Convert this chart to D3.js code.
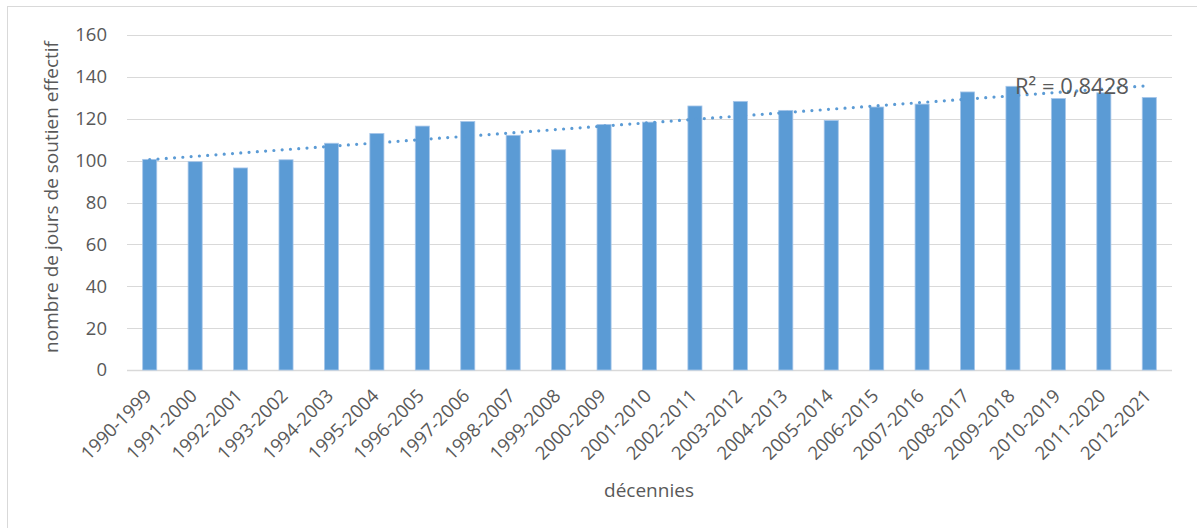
<!DOCTYPE html>
<html>
<head>
<meta charset="utf-8">
<script src="https://cdn.jsdelivr.net/npm/d3@7"></script>
<style>
html,body{margin:0;padding:0;background:#fff;}
svg{display:block;}
text{font-family:"Open Sans","Noto Sans",sans-serif;fill:#595959;}
</style>
</head>
<body>
<svg id="chart" width="1197" height="528"></svg>
<script>
const categories = ["1990-1999","1991-2000","1992-2001","1993-2002","1994-2003","1995-2004","1996-2005","1997-2006","1998-2007","1999-2008","2000-2009","2001-2010","2002-2011","2003-2012","2004-2013","2005-2014","2006-2015","2007-2016","2008-2017","2009-2018","2010-2019","2011-2020","2012-2021"];
const values = [100.6,99.5,96.5,100.4,108.3,113.0,116.5,118.7,112.1,105.2,117.3,118.4,126.1,128.3,124.0,119.2,125.6,127.0,132.8,135.5,129.7,132.4,130.2];
const yTicks = [0,20,40,60,80,100,120,140,160];
const r2Label = "R² = 0,8428";
const yTitle = "nombre de jours de soutien effectif";
const xTitle = "décennies";

const svg = d3.select("#chart");
const m = {left:127, right:1172, top:35, bottom:370};

svg.append("rect").attr("x",7.5).attr("y",6.5).attr("width",1250).attr("height",600)
  .attr("fill","none").attr("stroke","#d9d9d9").attr("stroke-width",1);

const x = d3.scaleBand().domain(categories).range([m.left,m.right]).paddingInner(0.69).paddingOuter(0.345);
const y = d3.scaleLinear().domain([0,160]).range([m.bottom,m.top]);

// gridlines
svg.append("g").selectAll("line").data(yTicks).join("line")
  .attr("x1",m.left).attr("x2",m.right)
  .attr("y1",d=>Math.round(y(d))+0.5).attr("y2",d=>Math.round(y(d))+0.5)
  .attr("stroke","#d9d9d9").attr("stroke-width",d=>d===0?1.5:1);

// y axis labels
const yAxis = d3.axisLeft(y).tickValues(yTicks).tickSize(0).tickPadding(20);
const yg = svg.append("g").attr("transform",`translate(${m.left},0)`).call(yAxis);
yg.select(".domain").remove();
yg.selectAll("text").style("font-size","18.5px").style("fill","#595959").attr("font-family",null);

// bars
svg.append("g").selectAll("rect").data(values).join("rect")
  .attr("x",(d,i)=>x(categories[i]))
  .attr("width",x.bandwidth())
  .attr("y",d=>y(d))
  .attr("height",d=>y(0)-y(d))
  .attr("fill","#5b9bd5")
  .attr("stroke","#a8c7ea").attr("stroke-width",0.8);

// x axis labels
const xAxis = d3.axisBottom(x).tickSize(0).tickPadding(0);
const xg = svg.append("g").attr("transform",`translate(0,${m.bottom})`).call(xAxis);
xg.select(".domain").remove();
xg.selectAll("text")
  .style("font-size","18.5px").style("fill","#595959").attr("font-family",null)
  .attr("text-anchor","end").attr("dy",null).attr("y",0)
  .attr("transform","translate(3,27) rotate(-45)");

// linear trendline (least squares on values)
const n = values.length;
const xs = d3.range(n);
const mx = d3.mean(xs), my = d3.mean(values);
const slope = d3.sum(xs,(i)=> (i-mx)*(values[i]-my)) / d3.sum(xs,i=>(i-mx)*(i-mx));
const icpt = my - slope*mx;
const cx = i => x(categories[i]) + x.bandwidth()/2;
svg.append("line")
  .attr("x1",cx(0)).attr("y1",y(icpt))
  .attr("x2",cx(n-1)).attr("y2",y(icpt+slope*(n-1)))
  .attr("stroke","#5b9bd5").attr("stroke-width",3.2)
  .attr("stroke-linecap","round").attr("stroke-dasharray","0,8.3");

// R2 label
svg.append("text").attr("x",1015).attr("y",94).style("font-size","22px").text(r2Label);

// titles
svg.append("text").attr("transform","translate(58,197) rotate(-90)").attr("text-anchor","middle")
  .style("font-size","19px").text(yTitle);
svg.append("text").attr("x",649).attr("y",497).attr("text-anchor","middle")
  .style("font-size","19px").text(xTitle);
</script>
</body>
</html>
